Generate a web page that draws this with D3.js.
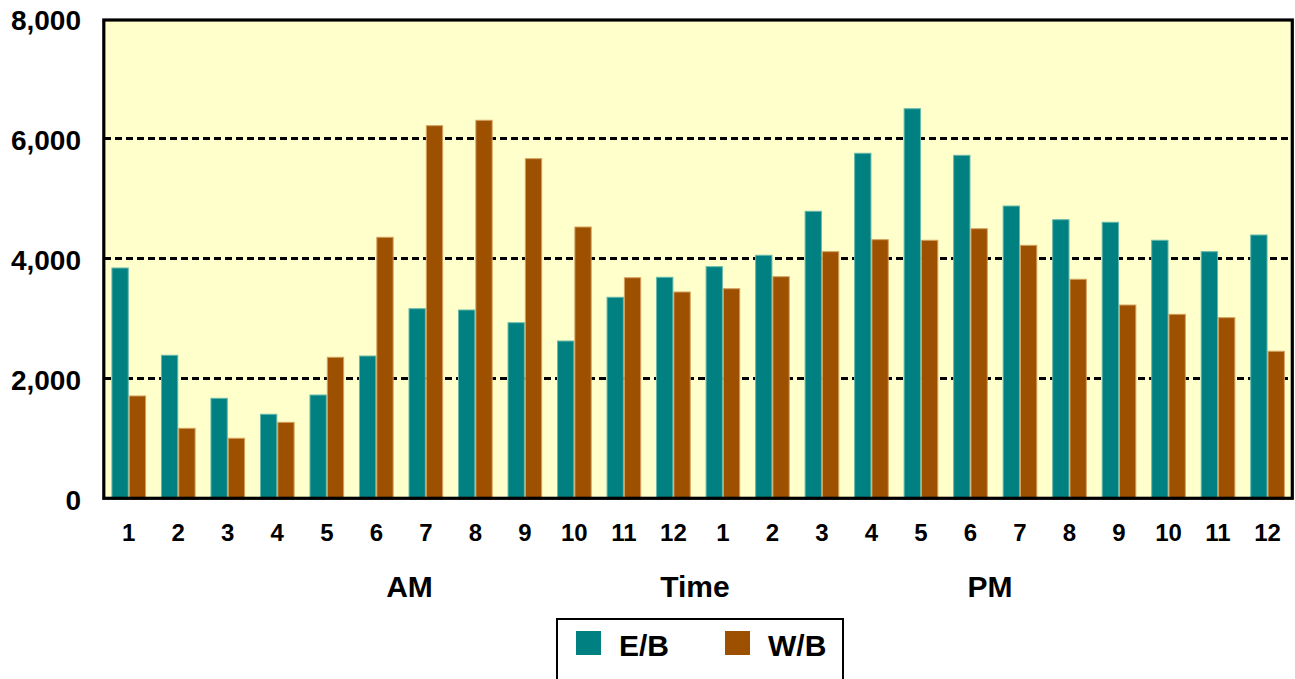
<!DOCTYPE html>
<html><head><meta charset="utf-8">
<script src="https://cdn.jsdelivr.net/npm/d3@7/dist/d3.min.js"></script>
<style>body{margin:0;background:#fff;}svg{display:block;font-family:"Liberation Sans",Arial,sans-serif;font-weight:bold;}</style>
</head><body>
<script>
const categories = ["1","2","3","4","5","6","7","8","9","10","11","12","1","2","3","4","5","6","7","8","9","10","11","12"];
const eastbound = [3855,2400,1683,1417,1738,2388,3177,3155,2943,2638,3367,3700,3877,4067,4800,5767,6510,5733,4888,4660,4617,4317,4127,4405];
const westbound = [1722,1183,1017,1283,2367,4367,6227,6317,5677,4538,3693,3455,3510,3710,4127,4327,4317,4510,4233,3667,3238,3083,3027,2467];
const seriesNames = ["E/B","W/B"];
const yTicks = [0,2000,4000,6000,8000];
const groupLabels = ["AM","Time","PM"];

const W = 1295, H = 679;
const L = 104, R = 1292.3, T = 19.3, B = 499.3;
const svg = d3.select("body").append("svg").attr("width", W).attr("height", H);

const idx = d3.range(categories.length);
const x = d3.scaleBand().domain(idx).range([L, R]).paddingInner(0.3).paddingOuter(0.15);
const xs = d3.scaleBand().domain([0,1]).range([0, x.bandwidth()]);
const y = d3.scaleLinear().domain([0, 8000]).range([B, T]);
const colors = ["#008080", "#9c5000"];
const strokes = ["#66b8aa", "#d4a060"];

svg.append("rect").attr("x", L).attr("y", 20).attr("width", R - L).attr("height", 498.3 - 20).attr("fill", "#ffffcc");

// gridlines
svg.append("g").selectAll("line").data(yTicks.filter(d => d > 0 && d < 8000)).join("line")
  .attr("x1", L).attr("x2", R).attr("y1", d => Math.round(y(d)) - 0.5).attr("y2", d => Math.round(y(d)) - 0.5)
  .attr("stroke", "#000").attr("stroke-width", 3).attr("stroke-dasharray", "7,4")
  .attr("shape-rendering", "crispEdges");

// bars
const data = idx.map(i => [eastbound[i], westbound[i]]);
const g = svg.append("g").selectAll("g").data(data).join("g").attr("transform", (d, i) => `translate(${x(i)},0)`);
g.selectAll("rect").data(d => d).join("rect")
  .attr("x", (d, j) => xs(j) + 0.5).attr("width", xs.bandwidth() - 1)
  .attr("y", d => y(d)).attr("height", d => y(0) - y(d))
  .attr("fill", (d, j) => colors[j]).attr("stroke", (d, j) => strokes[j]).attr("stroke-width", 1);

// frame
svg.append("rect").attr("x", 103.8).attr("y", 20).attr("width", R - 103.8).attr("height", 498.3 - 20)
  .attr("fill", "none").attr("stroke", "#000").attr("stroke-width", 3.2);

// y axis labels
const yAxis = d3.axisLeft(y).tickValues(yTicks).tickFormat(d3.format(",")).tickSize(0).tickPadding(0);
const ya = svg.append("g").attr("transform", "translate(81,0)").call(yAxis);
ya.select(".domain").remove();
ya.selectAll("text").attr("font-size", 28).attr("font-family", "Liberation Sans, Arial, sans-serif").attr("font-weight", "bold").attr("fill", "#000").attr("dy", "0.36em");

// x axis labels
const xAxis = d3.axisBottom(x).tickFormat(i => categories[i]).tickSize(0).tickPadding(0);
const xa = svg.append("g").attr("transform", "translate(0,541)").call(xAxis);
xa.select(".domain").remove();
xa.selectAll("text").attr("font-size", 24).attr("font-family", "Liberation Sans, Arial, sans-serif").attr("font-weight", "bold").attr("fill", "#000").attr("dy", "0");

// group labels
const groupPos = [409.5, 695, 990];
svg.append("g").selectAll("text").data(groupLabels).join("text")
  .attr("x", (d, i) => groupPos[i]).attr("y", 597).attr("text-anchor", "middle")
  .attr("font-size", 30).text(d => d);

// legend
const lg = svg.append("g");
lg.append("rect").attr("x", 557).attr("y", 619).attr("width", 286).attr("height", 70)
  .attr("fill", "#fff").attr("stroke", "#000").attr("stroke-width", 2);
const legX = [576, 725];
seriesNames.forEach((n, i) => {
  lg.append("rect").attr("x", legX[i]).attr("y", 631).attr("width", 25).attr("height", 24).attr("fill", colors[i]);
  lg.append("text").attr("x", legX[i] + 43).attr("y", 656).attr("font-size", 30).text(n);
});
</script>
</body></html>
